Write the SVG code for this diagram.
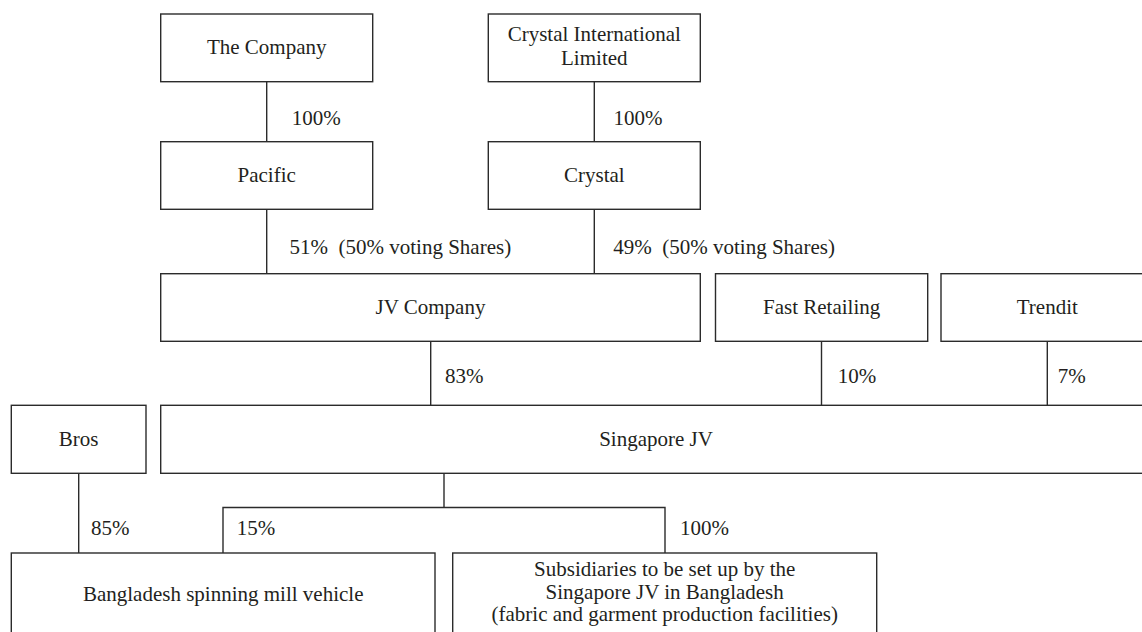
<svg xmlns="http://www.w3.org/2000/svg" width="1142" height="632" viewBox="0 0 1142 632">
<style>
.box{fill:#fff;stroke:#2b2b2b;stroke-width:1.4}
.ln{stroke:#2b2b2b;stroke-width:1.4;fill:none}
text{font-family:"Liberation Serif","Times New Roman",serif;font-size:21px;fill:#231f20}
.c{text-anchor:middle}
</style>
<rect width="1142" height="632" fill="#fff"/>
<g id="connectors">
<line class="ln" x1="266.7" y1="81.7" x2="266.7" y2="141.7"/>
<line class="ln" x1="594.3" y1="81.7" x2="594.3" y2="141.7"/>
<line class="ln" x1="266.7" y1="209.3" x2="266.7" y2="273.7"/>
<line class="ln" x1="594.3" y1="209.3" x2="594.3" y2="273.7"/>
<line class="ln" x1="430.7" y1="341.3" x2="430.7" y2="405.3"/>
<line class="ln" x1="821.5" y1="341.3" x2="821.5" y2="405.3"/>
<line class="ln" x1="1047.3" y1="341.3" x2="1047.3" y2="405.3"/>
<line class="ln" x1="78.7" y1="473.3" x2="78.7" y2="553"/>
<polyline class="ln" points="444,473.3 444,507.5"/>
<polyline class="ln" points="223,553 223,507.5 665,507.5 665,553"/>
<text x="291.7" y="125">100%</text>
<text x="613.5" y="125">100%</text>
<text x="289.5" y="254" xml:space="preserve">51%  (50% voting Shares)</text>
<text x="613.3" y="254" xml:space="preserve">49%  (50% voting Shares)</text>
<text x="445" y="383">83%</text>
<text x="837.7" y="383">10%</text>
<text x="1057.7" y="383">7%</text>
<text x="91" y="535">85%</text>
<text x="236.7" y="535">15%</text>
<text x="680" y="535">100%</text>
</g>
<g id="the-company"><rect class="box" x="160.7" y="14" width="212" height="67.7"/><text class="c" x="266.7" y="54">The Company</text></g>
<g id="crystal-international"><rect class="box" x="488.3" y="14" width="212" height="67.7"/><text class="c" x="594.3" y="41">Crystal International</text><text class="c" x="594.3" y="65">Limited</text></g>
<g id="pacific"><rect class="box" x="160.7" y="141.7" width="212" height="67.6"/><text class="c" x="266.7" y="182">Pacific</text></g>
<g id="crystal"><rect class="box" x="488.3" y="141.7" width="212" height="67.6"/><text class="c" x="594.3" y="182">Crystal</text></g>
<g id="jv-company"><rect class="box" x="160.7" y="273.7" width="539.6" height="67.6"/><text class="c" x="430.5" y="314">JV Company</text></g>
<g id="fast-retailing"><rect class="box" x="715.5" y="273.7" width="212.2" height="67.6"/><text class="c" x="821.6" y="314">Fast Retailing</text></g>
<g id="trendit"><rect class="box" x="941" y="273.7" width="212.6" height="67.6"/><text class="c" x="1047.3" y="314">Trendit</text></g>
<g id="bros"><rect class="box" x="11.3" y="405.3" width="134.7" height="68"/><text class="c" x="78.7" y="445.5">Bros</text></g>
<g id="singapore-jv"><rect class="box" x="160.7" y="405.3" width="990.6" height="68"/><text class="c" x="656" y="445.5">Singapore JV</text></g>
<g id="bangladesh-spinning"><rect class="box" x="11.3" y="553" width="423.7" height="90"/><text class="c" x="223.2" y="601">Bangladesh spinning mill vehicle</text></g>
<g id="subsidiaries"><rect class="box" x="452.7" y="553" width="424" height="90"/><text class="c" x="664.7" y="576">Subsidiaries to be set up by the</text><text class="c" x="664.7" y="598.5">Singapore JV in Bangladesh</text><text class="c" x="664.7" y="621">(fabric and garment production facilities)</text></g>
</svg>
